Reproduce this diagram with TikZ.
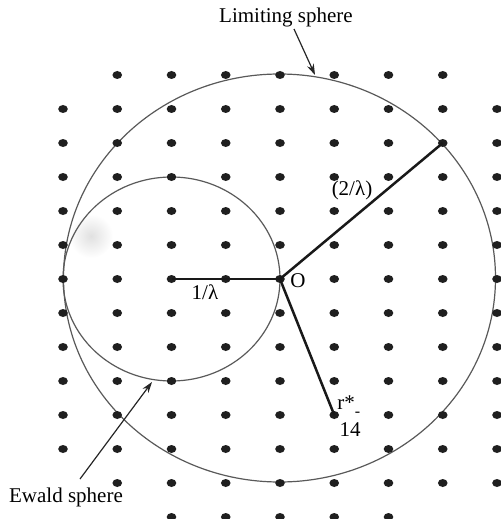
\documentclass[tikz,border=0pt]{standalone}
\usepackage{fontspec}
\setmainfont{Liberation Serif}
\usetikzlibrary{arrows.meta,shapes.geometric}
\begin{document}
\begin{tikzpicture}[x=0.5pt,y=-0.5pt,
  dot/.style={ellipse,fill=black!88,inner sep=0pt,minimum width=4.8pt,minimum height=4pt},
  sphere/.style={draw=black!65,line width=0.6pt},
  radius/.style={draw=black!90,line width=1.25pt},
  pointer/.style={draw=black!85,line width=0.6pt,-{Stealth[length=5.5pt,width=3.6pt]}},
  lbl/.style={inner sep=0pt,font=\fontsize{10.5}{12}\selectfont}]
\useasboundingbox (0,0) rectangle (501,519);
% faint smear
\shade[inner color=black!12,outer color=white] (91,236) circle (11pt);
% spheres
\draw[sphere] (279.5,278) ellipse [x radius=108pt,y radius=102pt];
\draw[sphere] (171.5,279) ellipse [x radius=54.25pt,y radius=51pt];
% lattice
\foreach \j/\a/\b in {0/1/7,1/0/8,2/0/8,3/0/8,4/0/8,5/0/8,6/0/8,7/0/8,8/0/8,9/0/8,10/0/8,11/0/8,12/1/8,13/2/6}{
  \foreach \i in {\a,...,\b}{
    \node[dot] (d-\i-\j) at ({63+54.25*\i},{75+34*\j}) {};
  }
}
% radii
\draw[radius] (d-2-6.center) -- (d-4-6.center);
\draw[radius] (d-4-6.center) -- (d-7-2.center);
\draw[radius] (d-4-6.center) -- (d-5-10.center);
% labels
\node[lbl] (lim) at (286,17) {Limiting sphere};
\node[lbl] (ew) at (66,497) {Ewald sphere};
\node[lbl] (two) at (352,190) {(2/λ)};
\node[lbl] (one) at (205,292) {1/λ};
\node[lbl] (o) at (298,281) {O};
\node[lbl,anchor=west] (r) at (337,406) {r*\raisebox{-0.8ex}{\fontsize{8}{9}\selectfont -}};
\node[lbl] (n14) at (350,430) {14};
% pointers
\coordinate (limtip) at (315,75);
\coordinate (limtail) at (294,29);
\coordinate (ewtip) at (152,382);
\coordinate (ewtail) at (80,479);
\draw[pointer] (limtail) -- (limtip);
\draw[pointer] (ewtail) -- (ewtip);
\end{tikzpicture}
\end{document}
